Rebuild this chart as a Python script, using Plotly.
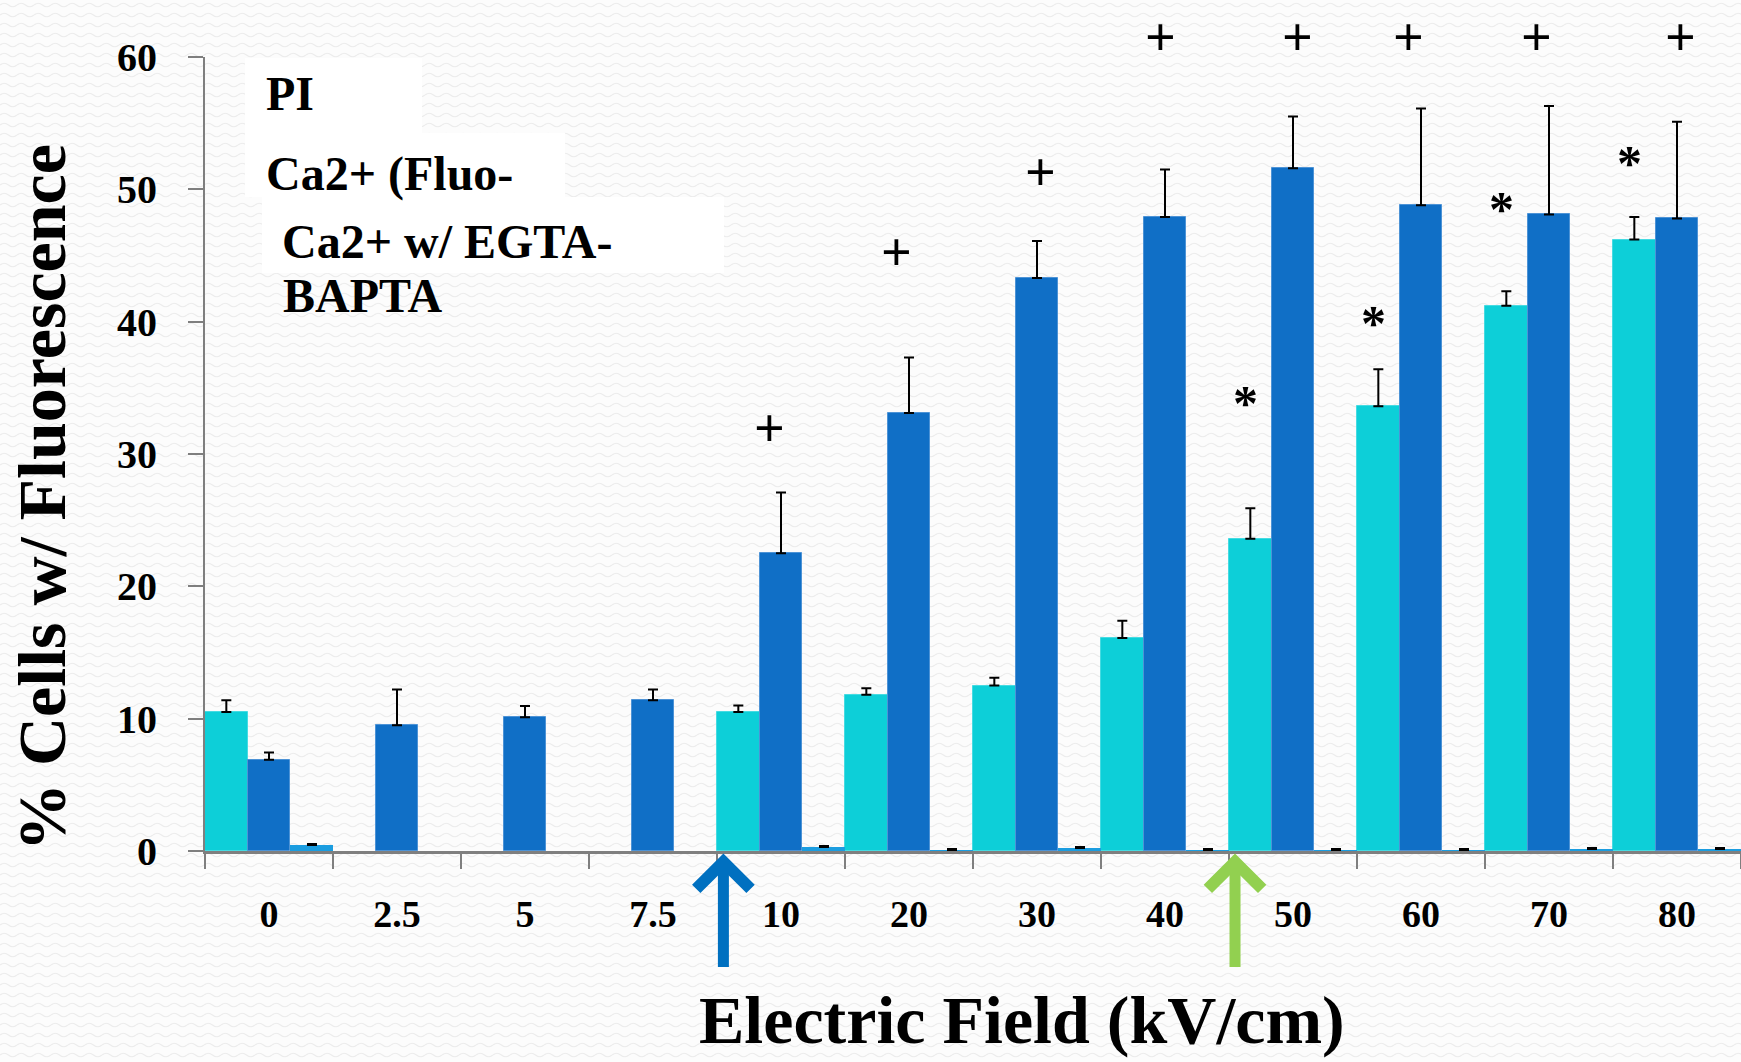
import base64
import plotly.graph_objects as go

# Electric field strengths (kV/cm)
fields = ["0", "2.5", "5", "7.5", "10", "20", "30", "40", "50", "60", "70", "80"]

# % cells with fluorescence, mean and upper error
pi_vals = [10.5, None, None, None, 10.5, 11.8, 12.5, 16.1, 23.6, 33.6, 41.2, 46.2]
pi_err = [0.9, 0, 0, 0, 0.5, 0.5, 0.6, 1.3, 2.3, 2.8, 1.1, 1.7]

fluo_vals = [6.9, 9.5, 10.1, 11.4, 22.5, 33.1, 43.3, 47.9, 51.6, 48.8, 48.1, 47.8]
fluo_err = [0.55, 2.7, 0.85, 0.8, 4.6, 4.2, 2.8, 3.6, 3.9, 7.3, 8.2, 7.3]

egta_vals = [0.45, None, None, None, 0.3, 0.05, 0.2, 0.05, 0.05, 0.05, 0.13, 0.13]
egta_err = [0.1, 0, 0, 0, 0.1, 0.08, 0.1, 0.08, 0.08, 0.08, 0.08, 0.08]

legend_labels = ["PI", "Ca2+ (Fluo-", "Ca2+ w/ EGTA-", "BAPTA"]

# significance markers: "+" over Fluo-4 bars, "*" over PI bars
plus_fields = ["10", "20", "30", "40", "50", "60", "70", "80"]
plus_levels = [31.95, 45.25, 51.3, 61.5, 61.5, 61.5, 61.5, 61.5]
star_fields = ["50", "60", "70", "80"]
star_levels = [34.5, 40.6, 49.2, 52.7]

Y_MAX = 60
FONT = "Liberation Serif"
W, H = 1741, 1062
L, R, T, B = 205, 0, 57, 211
PW, PH = W - L - R, H - T - B


def px_x(x):
    return (x - L) / PW


def px_y(y):
    return (H - B - y) / PH


def err(vals):
    return dict(type="data", symmetric=False, array=vals, arrayminus=[0] * len(vals),
                color="black", thickness=2, width=5)


fig = go.Figure()
fig.add_bar(x=fields, y=pi_vals, name="PI", marker_color="#0DCFD8",
            marker_line=dict(width=1, color="#45dbe2"), error_y=err(pi_err))
fig.add_bar(x=fields, y=fluo_vals, name="Ca2+ (Fluo-4)", marker_color="#106FC6",
            marker_line=dict(width=1, color="#4d93d6"), error_y=err(fluo_err))
fig.add_bar(x=fields, y=egta_vals, name="Ca2+ w/ EGTA-BAPTA", marker_color="#1B9DE0",
            marker_line=dict(width=0), error_y=err(egta_err))

# wavy background texture
svg = (
    f'<svg xmlns="http://www.w3.org/2000/svg" width="{W}" height="{H}">'
    '<defs><pattern id="w" width="17" height="10" patternUnits="userSpaceOnUse">'
    '<path d="M0 5 Q4.25 1.5 8.5 5 T17 5" fill="none" stroke="#ececec" stroke-width="1.1"/>'
    '</pattern></defs>'
    '<rect width="100%" height="100%" fill="#fcfcfc"/>'
    '<rect width="100%" height="100%" fill="url(#w)"/></svg>'
)
bg_src = "data:image/svg+xml;base64," + base64.b64encode(svg.encode()).decode()

annotations = []
bold = dict(family=FONT, color="black", weight="bold")

# axis titles
annotations.append(dict(text="Electric Field (kV/cm)", xref="paper", yref="paper",
                        x=px_x(1022), y=px_y(1020), xanchor="center", yanchor="middle",
                        showarrow=False, font=dict(bold, size=68)))
annotations.append(dict(text="% Cells w/ Fluorescence", xref="paper", yref="paper",
                        x=px_x(42), y=px_y(498), xanchor="center", yanchor="middle",
                        textangle=-90, showarrow=False, font=dict(bold, size=68)))

# legend text
legend_pos = [(264, 93.5), (264, 173.5), (280, 241.5), (281, 295)]
for label, (lx, ly) in zip(legend_labels, legend_pos):
    annotations.append(dict(text=label, xref="paper", yref="paper", x=px_x(lx), y=px_y(ly),
                            xanchor="left", yanchor="middle", showarrow=False,
                            font=dict(bold, size=48)))

# significance markers (x by category index, y in plot fraction so they can sit above the axis top)
plus_shift = [-12, -13, 3, -5, 4, -13, -13, 3]
for f, lv, sh in zip(plus_fields, plus_levels, plus_shift):
    annotations.append(dict(text="+", x=fields.index(f), y=lv / Y_MAX, xref="x", yref="paper",
                            xshift=sh, xanchor="center", yanchor="middle", showarrow=False,
                            borderpad=0, font=dict(bold, size=54)))
for f, lv in zip(star_fields, star_levels):
    annotations.append(dict(text="*", x=fields.index(f), y=lv / Y_MAX, xref="x", yref="paper",
                            xshift=-48, yshift=-9, xanchor="center", yanchor="middle",
                            showarrow=False, font=dict(bold, size=50)))

# threshold arrows under the axis
for xpos, col in [(3.55, "#0070C0"), (7.547, "#92D050")]:
    annotations.append(dict(text="", x=xpos, y=-0.003, xref="x", yref="paper", ax=0, ay=115,
                            showarrow=True, arrowhead=4, arrowsize=0.95, arrowwidth=11,
                            arrowcolor=col))

# white legend boxes
boxes = [(245, 58, 422, 133), (245, 133, 565, 197), (262, 197, 724, 273)]
shapes = [dict(type="rect", xref="paper", yref="paper", x0=px_x(x0), x1=px_x(x1),
               y0=px_y(y1), y1=px_y(y0), fillcolor="white", line_width=0, layer="below")
          for x0, y0, x1, y1 in boxes]

fig.update_layout(
    width=W, height=H, autosize=False,
    margin=dict(l=L, r=R, t=T, b=B, pad=0),
    paper_bgcolor="#fcfcfc", plot_bgcolor="rgba(0,0,0,0)",
    barmode="group", bargap=0, bargroupgap=0, showlegend=False,
    annotations=annotations, shapes=shapes,
    images=[dict(source=bg_src, xref="paper", yref="paper", x=px_x(0), y=px_y(0),
                 sizex=W / PW, sizey=H / PH, sizing="stretch", xanchor="left",
                 yanchor="top", layer="below")],
)
fig.update_xaxes(type="category", range=[-0.5, 11.5], tickson="boundaries",
                 ticks="outside", ticklen=15, tickwidth=2, tickcolor="#7f7f7f",
                 showline=True, linecolor="#7f7f7f", linewidth=2.5, showgrid=False,
                 tickfont=dict(bold, size=38), ticklabelstandoff=28)
fig.update_yaxes(range=[0, Y_MAX], dtick=10, ticks="outside", ticklen=15, tickwidth=2,
                 tickcolor="#7f7f7f", showline=True, linecolor="#7f7f7f", linewidth=2,
                 showgrid=False, zeroline=False, tickfont=dict(bold, size=40),
                 ticklabelstandoff=23)

fig.write_html("out.html")
